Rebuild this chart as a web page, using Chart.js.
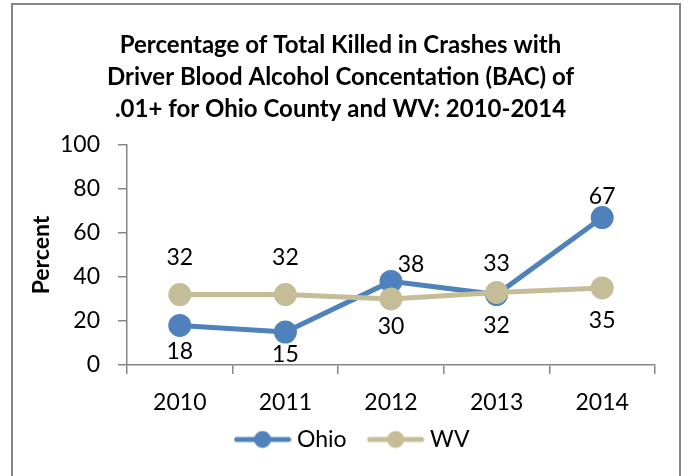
<!DOCTYPE html>
<html>
<head>
<meta charset="utf-8">
<script src="https://cdn.jsdelivr.net/npm/chart.js@4/dist/chart.umd.min.js"></script>
<style>
  body { margin: 0; background: #fff; }
</style>
</head>
<body>
<canvas id="chart" width="688" height="476"></canvas>
<script>
// data
const years = ["2010", "2011", "2012", "2013", "2014"];
const ohio = [18, 15, 38, 32, 67];
const wv = [32, 32, 30, 33, 35];
const titleLines = [
  "Percentage of Total Killed in Crashes with",
  "Driver Blood Alcohol Concentation (BAC) of",
  ".01+ for Ohio County and WV: 2010-2014",
];

// where each value label sits relative to its point (dx, dy)
const ohioLabelOffsets = [[0, 26], [0, 23], [20, -17], [0, 31], [0, -21]];
const wvLabelOffsets = [[0, -37], [0, -37], [0, 28], [0, -29], [0, 33]];

const BLUE = "#4F81BD";
const TAN = "#C4BD97";
const AXIS = "#868686";
const FONT = "Lato, 'Open Sans', sans-serif";

function legendIcon(color) {
  const c = document.createElement("canvas");
  c.width = 58;
  c.height = 20;
  const ctx = c.getContext("2d");
  ctx.strokeStyle = color;
  ctx.lineWidth = 5;
  ctx.lineCap = "round";
  ctx.beginPath();
  ctx.moveTo(3, 10);
  ctx.lineTo(55, 10);
  ctx.stroke();
  ctx.fillStyle = color;
  ctx.beginPath();
  ctx.arc(29, 10, 8.5, 0, Math.PI * 2);
  ctx.fill();
  return c;
}
const icons = [legendIcon(BLUE), legendIcon(TAN)];

const frame = {
  id: "frame",
  beforeDraw(chart) {
    const ctx = chart.ctx;
    ctx.save();
    ctx.strokeStyle = AXIS;
    ctx.lineWidth = 2;
    ctx.strokeRect(12, 4, 668, 500);
    ctx.restore();
  },
};

// nudge title/legend to the frame centre, and let the x labels overflow their box
const nudge = {
  id: "nudge",
  afterLayout(chart) {
    chart.titleBlock.left += 13;
    chart.titleBlock.right += 13;
    chart.legend.left += 27;
    chart.legend.right += 27;
    chart.scales.x.bottom += 30;
  },
};

const valueLabels = {
  id: "valueLabels",
  afterDatasetsDraw(chart) {
    const ctx = chart.ctx;
    const offsets = [ohioLabelOffsets, wvLabelOffsets];
    ctx.save();
    ctx.font = "23px " + FONT;
    ctx.fillStyle = "#000";
    ctx.textAlign = "center";
    ctx.textBaseline = "middle";
    chart.data.datasets.forEach((ds, i) => {
      const meta = chart.getDatasetMeta(i);
      meta.data.forEach((pt, j) => {
        const [dx, dy] = offsets[i][j];
        ctx.fillText(String(ds.data[j]), pt.x + dx, pt.y + dy);
      });
    });
    ctx.restore();
  },
};

new Chart(document.getElementById("chart"), {
  type: "line",
  data: {
    labels: years,
    datasets: [
      {
        label: "Ohio",
        data: ohio,
        borderColor: BLUE,
        backgroundColor: BLUE,
        borderWidth: 5,
        pointRadius: 9,
        pointHoverRadius: 9,
        order: 1,
      },
      {
        label: "WV",
        data: wv,
        borderColor: TAN,
        backgroundColor: TAN,
        borderWidth: 5,
        pointRadius: 9,
        pointHoverRadius: 9,
        order: 0,
      },
    ],
  },
  options: {
    responsive: false,
    devicePixelRatio: 1,
    animation: false,
    layout: { padding: { left: 0, right: 33, top: 0, bottom: 15 } },
    plugins: {
      tooltip: { enabled: false },
      title: {
        display: true,
        text: titleLines,
        color: "#000",
        font: { family: FONT, size: 24, weight: "bold", lineHeight: 1.333 },
        padding: { top: 29, bottom: 20 },
      },
      legend: {
        position: "bottom",
        labels: {
          color: "#000",
          font: { family: FONT, size: 23 },
          usePointStyle: true,
          pointStyleWidth: 46,
          padding: 26,
          sort: (a, b) => a.datasetIndex - b.datasetIndex,
          generateLabels(chart) {
            const items = Chart.defaults.plugins.legend.labels.generateLabels(chart);
            items.forEach((it) => { it.pointStyle = icons[it.datasetIndex]; });
            return items;
          },
        },
      },
    },
    scales: {
      x: {
        offset: true,
        grid: { display: true, offset: true, drawOnChartArea: false, tickLength: 9, color: AXIS, lineWidth: 1.5 },
        border: { color: AXIS, width: 1.5 },
        ticks: { color: "#000", font: { family: FONT, size: 23 }, padding: 15 },
        afterFit(scale) { scale.height = 37; },
      },
      y: {
        min: 0,
        max: 100,
        grid: { drawOnChartArea: false, tickLength: 9, color: AXIS, lineWidth: 1.5 },
        border: { color: AXIS, width: 1.5 },
        ticks: { stepSize: 20, color: "#000", font: { family: FONT, size: 23 }, padding: 18 },
        title: {
          display: true,
          text: "Percent",
          color: "#000",
          font: { family: FONT, size: 23, weight: "bold" },
          padding: { top: 28, bottom: 0 },
        },
        afterFit(scale) { scale.width = 127; },
      },
    },
  },
  plugins: [frame, nudge, valueLabels],
});
</script>
</body>
</html>
